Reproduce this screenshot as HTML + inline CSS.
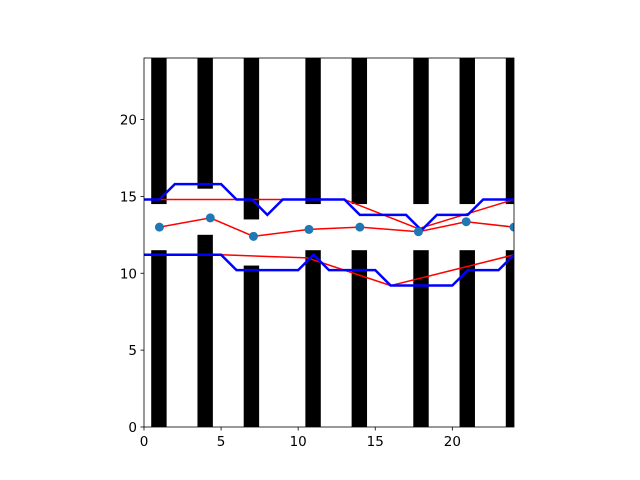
<!DOCTYPE html>
<html><head><meta charset="utf-8"><style>body{margin:0;background:#fff}svg{display:block;font-family:"DejaVu Sans","Liberation Sans",sans-serif}</style></head>
<body>
<svg id="chart" width="640" height="480" xmlns="http://www.w3.org/2000/svg"></svg>
<script>
const barCenters=[1,4,7,11,14,18,21,24];
const barLowTops=[11.5,12.5,10.5,11.5,11.5,11.5,11.5,11.5];
const barHighBottoms=[14.5,15.5,13.5,14.5,14.5,14.5,14.5,14.5];
const ptX=[1,4.3,7.1,10.7,14,17.8,20.9,24];
const ptY=[13,13.6,12.4,12.85,13,12.7,13.35,13];
const redUpX=[0,13,17.8,24];
const redUpY=[14.8,14.8,12.9,14.8];
const redLowX=[0,5,10.6,16,24];
const redLowY=[11.2,11.2,11.0,9.2,11.2];
const blueUpX=[0,1,2,5,6,7,8,9,13,14,17,18,19,21,22,24];
const blueUpY=[14.8,14.8,15.8,15.8,14.8,14.8,13.8,14.8,14.8,13.8,13.8,12.8,13.8,13.8,14.8,14.8];
const blueLowX=[0,5,6,10,11,12,15,16,20,21,23,24];
const blueLowY=[11.2,11.2,10.2,10.2,11.2,10.2,10.2,9.2,9.2,10.2,10.2,11.2];
const xTicks=[0,5,10,15,20];
const yTicks=[0,5,10,15,20];
const X0=144,X1=514,Y0=427,Y1=58;
const sx=v=>X0+(v/24)*(X1-X0), sy=v=>Y0-(v/24)*(Y0-Y1);
const svg=document.getElementById('chart');
const NS='http://www.w3.org/2000/svg';
function mk(t,a,p){const e=document.createElementNS(NS,t);for(const k in a)e.setAttribute(k,a[k]);(p||svg).appendChild(e);return e;}
const defs=mk('defs',{});const cp=mk('clipPath',{id:'c'},defs);mk('rect',{x:X0,y:Y1,width:X1-X0,height:Y0-Y1},cp);
const g=mk('g',{'clip-path':'url(#c)'});
barCenters.forEach((c,i)=>{
 let r=mk('rect',{x:sx(c-0.5)-0.5,y:sy(barLowTops[i]),width:sx(1)-sx(0),height:sy(0)-sy(barLowTops[i]),fill:'#000'},g);
 
 r=mk('rect',{x:sx(c-0.5)-0.5,y:sy(24),width:sx(1)-sx(0),height:sy(barHighBottoms[i])-sy(24),fill:'#000'},g);
 
});
function line(xs,ys,col,w,name){const e=mk('polyline',{points:xs.map((x,i)=>sx(x)+','+sy(ys[i])).join(' '),fill:'none',stroke:col,'stroke-width':w},g);
 }
line(redUpX,redUpY,'#f00',1.5,'red-upper-line');
line(redLowX,redLowY,'#f00',1.5,'red-lower-line');
line(ptX,ptY,'#f00',1.5,'red-mid-line');
line(blueUpX,blueUpY,'#00f',2.5,'blue-upper-line');
line(blueLowX,blueLowY,'#00f',2.5,'blue-lower-line');
ptX.forEach((x,i)=>{const c=mk('circle',{cx:sx(x),cy:sy(ptY[i]),r:4.5,fill:'#1f77b4'},g);
 });
const fr=mk('rect',{x:X0,y:Y1,width:X1-X0,height:Y0-Y1,fill:'none',stroke:'#000','stroke-width':0.8});

xTicks.forEach(t=>{mk('line',{x1:sx(t),x2:sx(t),y1:Y0,y2:Y0+3.5,stroke:'#000','stroke-width':0.8});
 const tx=mk('text',{x:sx(t),y:Y0+19,'text-anchor':'middle','font-size':13.5});tx.textContent=t;
 });
yTicks.forEach(t=>{mk('line',{x1:X0-3.5,x2:X0,y1:sy(t),y2:sy(t),stroke:'#000','stroke-width':0.8});
 const tx=mk('text',{x:X0-7,y:sy(t)+5,'text-anchor':'end','font-size':13.5});tx.textContent=t;
 });
</script>
</body></html>
